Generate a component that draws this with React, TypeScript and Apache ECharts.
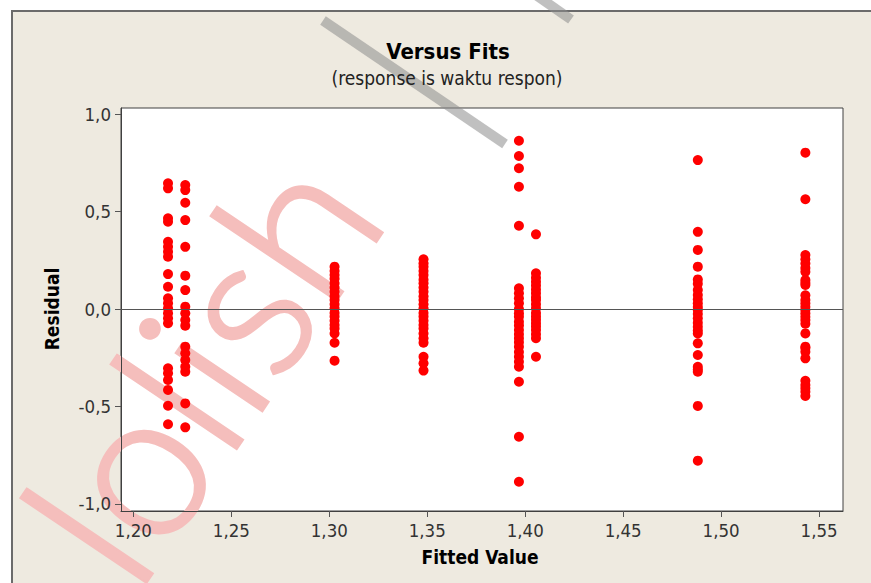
import React, { useEffect, useRef } from "react";
import * as echarts from "echarts";

// Axis tick values
const xTicks = [1.2, 1.25, 1.3, 1.35, 1.4, 1.45, 1.5, 1.55];
const yTicks = [-1, -0.5, 0, 0.5, 1];

// Fitted value of each vertical group
const fittedValues = [1.2177, 1.2265, 1.3027, 1.3481, 1.3968, 1.4055, 1.4881, 1.543];

// Residuals of each group
const residualsG1 = [0.645, 0.619, 0.465, 0.448, 0.345, 0.319, 0.294, 0.268, 0.179, 0.114, 0.055, 0.029, 0.004, -0.022, -0.047, -0.073, -0.304, -0.33, -0.364, -0.415, -0.496, -0.591];
const residualsG2 = [0.636, 0.61, 0.545, 0.456, 0.319, 0.171, 0.097, 0.012, -0.022, -0.056, -0.086, -0.193, -0.227, -0.262, -0.296, -0.322, -0.484, -0.607];
const residualsG3 = [0.217, 0.195, 0.174, 0.155, 0.132, 0.11, 0.089, 0.065, 0.046, 0.025, 0.004, -0.02, -0.039, -0.06, -0.082, -0.1, -0.125, -0.173, -0.265];
const residualsG4 = [0.255, 0.235, 0.217, 0.195, 0.174, 0.15, 0.132, 0.11, 0.089, 0.065, 0.046, 0.025, 0.004, -0.02, -0.039, -0.06, -0.082, -0.1, -0.125, -0.15, -0.173, -0.245, -0.278, -0.316];
const residualsG5 = [0.863, 0.785, 0.722, 0.627, 0.427, 0.106, 0.081, 0.055, 0.029, 0.0, -0.022, -0.04, -0.065, -0.085, -0.108, -0.13, -0.15, -0.17, -0.193, -0.22, -0.245, -0.27, -0.296, -0.373, -0.655, -0.886];
const residualsG6 = [0.383, 0.183, 0.16, 0.14, 0.12, 0.1, 0.081, 0.06, 0.046, 0.025, 0.004, -0.02, -0.039, -0.055, -0.073, -0.09, -0.108, -0.13, -0.15, -0.245];
const residualsG7 = [0.764, 0.396, 0.303, 0.217, 0.152, 0.13, 0.097, 0.072, 0.05, 0.029, 0.01, -0.005, -0.025, -0.048, -0.07, -0.091, -0.11, -0.125, -0.176, -0.236, -0.296, -0.31, -0.322, -0.497, -0.778];
const residualsG8 = [0.802, 0.563, 0.277, 0.255, 0.234, 0.21, 0.191, 0.149, 0.135, 0.123, 0.07, 0.046, 0.03, 0.012, -0.005, -0.022, -0.04, -0.056, -0.075, -0.125, -0.193, -0.2, -0.219, -0.253, -0.368, -0.39, -0.407, -0.425, -0.446];

const residualGroups = [residualsG1, residualsG2, residualsG3, residualsG4, residualsG5, residualsG6, residualsG7, residualsG8];

const titleText = "Versus Fits";
const subtitleText = "(response is waktu respon)";
const xName = "Fitted Value";
const yName = "Residual";
const watermarkText = "lolish";

const FONT = "'DejaVu Sans Condensed', 'DejaVu Sans', Tahoma, sans-serif";

export default function App() {
  const ref = useRef<HTMLDivElement>(null);

  useEffect(() => {
    if (!ref.current) return;
    const chart = echarts.init(ref.current, undefined, { renderer: "svg" });

    const points: number[][] = [];
    residualGroups.forEach((g, i) => {
      g.forEach((r) => points.push([fittedValues[i], r]));
    });

    const comma = (v: number, d: number) => v.toFixed(d).replace(".", ",");
    const rot = (56 * Math.PI) / 180;

    chart.setOption({
      animation: false,
      backgroundColor: "#ffffff",
      grid: {
        left: 121,
        top: 108,
        width: 722,
        height: 403,
        show: true,
        backgroundColor: "#ffffff",
        borderColor: "#404040",
        borderWidth: 1,
        containLabel: false,
      },
      xAxis: {
        type: "value",
        min: 1.1937,
        max: 1.5622,
        z: 3,
        axisLine: { show: true, onZero: false, lineStyle: { color: "#404040", width: 1 } },
        axisTick: { show: true, length: 6, customValues: xTicks, lineStyle: { color: "#555" } },
        axisLabel: {
          customValues: xTicks,
          formatter: (v: number) => comma(v, 2),
          fontSize: 18.5,
          color: "#333",
          margin: 10,
          fontFamily: FONT,
        },
        splitLine: { show: false },
      },
      yAxis: {
        type: "value",
        min: -1.036,
        max: 1.031,
        z: 3,
        axisLine: { show: true, onZero: false, lineStyle: { color: "#404040", width: 1 } },
        axisTick: { show: true, length: 6, customValues: yTicks, lineStyle: { color: "#555" } },
        axisLabel: {
          customValues: yTicks,
          formatter: (v: number) => comma(v, 1),
          fontSize: 18.5,
          color: "#333",
          margin: 10,
          fontFamily: FONT,
        },
        splitLine: { show: false },
      },
      graphic: [
        {
          type: "rect",
          z: -10,
          shape: { x: 12, y: 11, width: 880, height: 590 },
          style: { fill: "#EEEAE0", stroke: "#6b6b6b", lineWidth: 2 },
        },
        {
          type: "text",
          z: 5,
          x: 448,
          y: 51,
          style: {
            text: titleText,
            font: `bold 22px ${FONT}`,
            fill: "#000",
            textAlign: "center",
            textVerticalAlign: "middle",
          },
        },
        {
          type: "text",
          z: 5,
          x: 447,
          y: 78,
          style: {
            text: subtitleText,
            font: `19px ${FONT}`,
            fill: "#222",
            textAlign: "center",
            textVerticalAlign: "middle",
          },
        },
        {
          type: "text",
          z: 5,
          x: 480,
          y: 557,
          style: {
            text: xName,
            font: `bold 19px ${FONT}`,
            fill: "#000",
            textAlign: "center",
            textVerticalAlign: "middle",
          },
        },
        {
          type: "text",
          z: 5,
          x: 52,
          y: 309,
          rotation: Math.PI / 2,
          style: {
            text: yName,
            font: `bold 19px ${FONT}`,
            fill: "#000",
            textAlign: "center",
            textVerticalAlign: "middle",
          },
        },
        {
          type: "text",
          z: 1,
          x: 70,
          y: 552,
          rotation: rot,
          style: {
            text: watermarkText,
            font: `300 207px Lato, 'Liberation Sans', sans-serif`,
            fill: "#F5BEBC",
            stroke: "#F5BEBC",
            lineWidth: 3.5,
            textAlign: "left",
            textVerticalAlign: "middle",
          },
        },
        {
          type: "line",
          z: 1,
          shape: { x1: 323, y1: 20.5, x2: 505, y2: 144 },
          style: { stroke: "rgba(140,140,140,0.55)", lineWidth: 10, lineCap: "butt" },
        },
        {
          type: "line",
          z: 1,
          shape: { x1: 533, y1: -7, x2: 571, y2: 19.5 },
          style: { stroke: "rgba(140,140,140,0.55)", lineWidth: 10, lineCap: "butt" },
        },
      ],
      series: [
        {
          type: "scatter",
          z: 2,
          data: points,
          symbol: "circle",
          symbolSize: 10,
          itemStyle: { color: "#ff0000", opacity: 1 },
          markLine: {
            silent: true,
            symbol: "none",
            label: { show: false },
            lineStyle: { color: "#555", width: 1, type: "solid" },
            data: [{ yAxis: 0 }],
          },
        },
      ],
    });

    return () => chart.dispose();
  }, []);

  return (
    <div
      ref={ref}
      style={{ position: "fixed", left: 0, top: 0, width: 871, height: 583 }}
    />
  );
}
